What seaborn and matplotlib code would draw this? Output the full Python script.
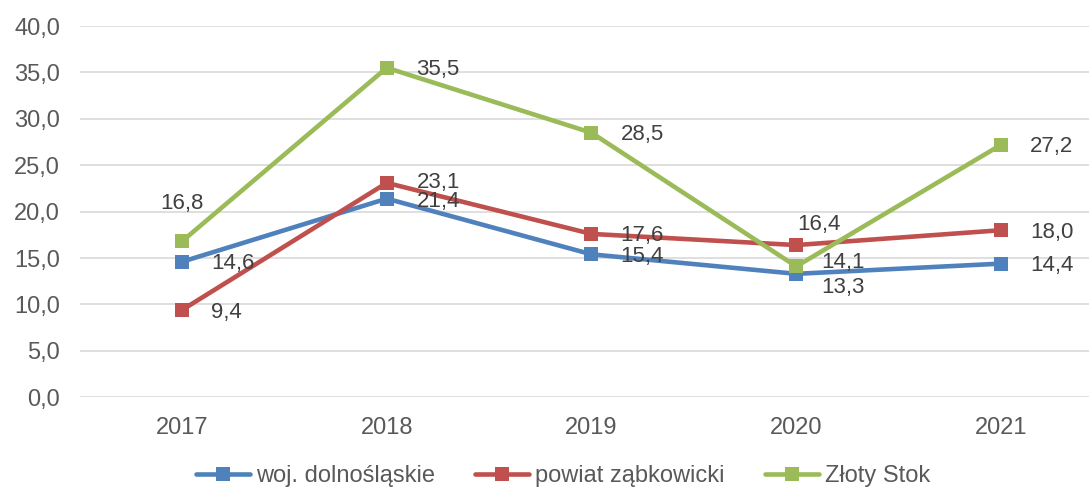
import pandas as pd
import matplotlib.pyplot as plt
import seaborn as sns

# Dane
years = [2017, 2018, 2019, 2020, 2021]
woj = [14.6, 21.4, 15.4, 13.3, 14.4]
powiat = [9.4, 23.1, 17.6, 16.4, 18.0]
zloty_stok = [16.8, 35.5, 28.5, 14.1, 27.2]
series_names = ['woj. dolnośląskie', 'powiat ząbkowicki', 'Złoty Stok']
colors = ['#4F81BD', '#C0504D', '#9BBB59']

df = pd.DataFrame({
    'rok': years * 3,
    'wartosc': woj + powiat + zloty_stok,
    'seria': [s for s in series_names for _ in years],
})

sns.set_style('white')
plt.rcParams['font.family'] = ['Liberation Sans', 'DejaVu Sans']

fig = plt.figure(figsize=(10.89, 4.88), dpi=100)
ax = fig.add_axes([0.0731, 0.1859, 0.9401, 0.7608])

sns.lineplot(data=df, x='rok', y='wartosc', hue='seria', style='seria',
             markers=['s', 's', 's'], dashes=False, palette=colors,
             linewidth=3.3, markersize=9.5, markeredgewidth=0, ax=ax,
             legend=True)

ax.set_xlim(2016.5, 2021.5)
ax.set_ylim(0, 40)
ax.set_yticks(range(0, 41, 5))
ax.set_yticklabels([f'{v:.1f}'.replace('.', ',') for v in range(0, 41, 5)])
ax.set_xticks(years)
ax.set_xticklabels([str(y) for y in years])
ax.set_xlabel('')
ax.set_ylabel('')
ax.grid(axis='y', color='#D9D9D9', linewidth=1.2)
ax.set_axisbelow(True)
for s in ax.spines.values():
    s.set_visible(False)
ax.tick_params(axis='both', length=0, labelsize=17, colors='#595959')
ax.tick_params(axis='x', pad=14)
ax.tick_params(axis='y', pad=14)

# Etykiety danych: przesunięcia w pikselach (dx, dy w dół), wyrównanie
default = (29, 2, 'left')
special = {
    (2, 0): (0, -38, 'center'),
    (1, 3): (23, -21, 'center'),
    (2, 3): (25, -4, 'left'),
    (0, 3): (25, 14, 'left'),
    (0, 1): (30, 3, 'left'),
    (1, 1): (30, 0, 'left'),
}
all_series = [woj, powiat, zloty_stok]
for si, vals in enumerate(all_series):
    for xi, (yr, v) in enumerate(zip(years, vals)):
        dx, dy, ha = special.get((si, xi), default)
        ax.annotate(f'{v:.1f}'.replace('.', ','), (yr, v),
                    xytext=(dx * 0.72, -dy * 0.72), textcoords='offset points',
                    ha=ha, va='center', fontsize=16, color='#404040')

handles, labels = ax.get_legend_handles_labels()
ax.get_legend().remove()
fig.legend(handles, labels, loc='center', bbox_to_anchor=(0.517, 0.025),
           ncol=3, frameon=False, fontsize=17, handlelength=2.3,
           handletextpad=0.25, columnspacing=1.7, labelcolor='#595959')

fig.savefig('out.png', dpi=100)
